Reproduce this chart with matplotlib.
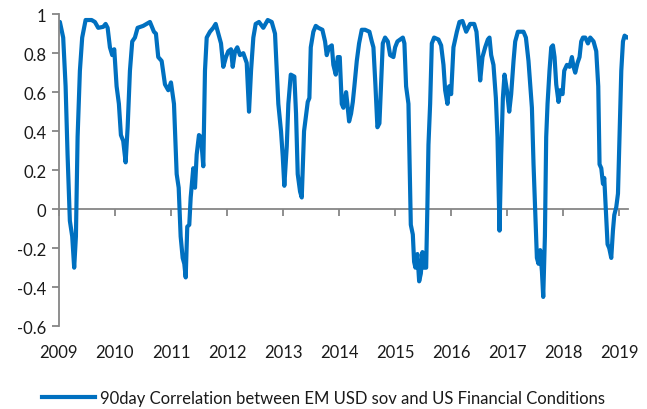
import matplotlib
matplotlib.use("Agg")
import matplotlib.pyplot as plt
from matplotlib.ticker import FuncFormatter

plt.rcParams['font.family'] = ['Lato', 'DejaVu Sans']
plt.rcParams['axes.unicode_minus'] = False

# 90-day correlation, decimal year vs. value
years = [
    2009.000, 2009.018, 2009.077, 2009.120, 2009.155, 2009.196, 2009.238, 2009.273, 2009.304,
    2009.334, 2009.375, 2009.416, 2009.477, 2009.584, 2009.643, 2009.702, 2009.791, 2009.834,
    2009.870, 2009.911, 2009.952, 2009.988, 2010.030, 2010.071, 2010.107, 2010.148, 2010.191,
    2010.227, 2010.268, 2010.309, 2010.357, 2010.405, 2010.505, 2010.625, 2010.696, 2010.732,
    2010.773, 2010.834, 2010.893, 2010.952, 2011.000, 2011.054, 2011.102, 2011.138, 2011.173,
    2011.209, 2011.238, 2011.263, 2011.291, 2011.327, 2011.352, 2011.398, 2011.429, 2011.459,
    2011.500, 2011.536, 2011.577, 2011.607, 2011.638, 2011.696, 2011.755, 2011.798, 2011.845,
    2011.893, 2011.934, 2011.982, 2012.023, 2012.071, 2012.102, 2012.143, 2012.184, 2012.232,
    2012.291, 2012.352, 2012.393, 2012.429, 2012.470, 2012.512, 2012.571, 2012.648, 2012.727,
    2012.798, 2012.857, 2012.888, 2012.916, 2012.964, 2012.995, 2013.023, 2013.066, 2013.095,
    2013.138, 2013.202, 2013.232, 2013.262, 2013.304, 2013.334, 2013.375, 2013.405, 2013.441,
    2013.470, 2013.495, 2013.541, 2013.584, 2013.630, 2013.702, 2013.750, 2013.780, 2013.821,
    2013.870, 2013.898, 2013.941, 2013.977, 2014.012, 2014.048, 2014.077, 2014.125, 2014.148,
    2014.179, 2014.214, 2014.245, 2014.273, 2014.316, 2014.357, 2014.405, 2014.464, 2014.541,
    2014.584, 2014.613, 2014.648, 2014.684, 2014.720, 2014.745, 2014.780, 2014.821, 2014.870,
    2014.911, 2014.970, 2015.000, 2015.041, 2015.089, 2015.138, 2015.166, 2015.196, 2015.238,
    2015.255, 2015.280, 2015.316, 2015.339, 2015.363, 2015.398, 2015.429, 2015.459, 2015.488,
    2015.518, 2015.554, 2015.577, 2015.595, 2015.625, 2015.655, 2015.696, 2015.773, 2015.821,
    2015.863, 2015.893, 2015.934, 2015.964, 2016.000, 2016.041, 2016.102, 2016.148, 2016.202,
    2016.268, 2016.339, 2016.411, 2016.452, 2016.488, 2016.518, 2016.559, 2016.607, 2016.655,
    2016.684, 2016.714, 2016.755, 2016.798, 2016.827, 2016.863, 2016.893, 2016.923, 2016.952,
    2016.995, 2017.036, 2017.071, 2017.113, 2017.143, 2017.191, 2017.232, 2017.291, 2017.334,
    2017.380, 2017.441, 2017.470, 2017.500, 2017.530, 2017.559, 2017.589, 2017.620, 2017.643,
    2017.673, 2017.696, 2017.720, 2017.755, 2017.786, 2017.816, 2017.845, 2017.875, 2017.916,
    2017.946, 2017.988, 2018.018, 2018.066, 2018.113, 2018.155, 2018.184, 2018.214, 2018.255,
    2018.291, 2018.321, 2018.352, 2018.393, 2018.441, 2018.482, 2018.541, 2018.589, 2018.625,
    2018.648, 2018.679, 2018.709, 2018.732, 2018.762, 2018.791, 2018.821, 2018.857, 2018.887,
    2018.911, 2018.946, 2018.977, 2019.005, 2019.036, 2019.066, 2019.095, 2019.138, 2019.173,
]
corr = [
    0.96, 0.96, 0.88, 0.63, 0.28, -0.06, -0.14, -0.30, -0.14,
    0.37, 0.71, 0.88, 0.97, 0.97, 0.96, 0.93, 0.935, 0.95,
    0.93, 0.83, 0.79, 0.82, 0.63, 0.54, 0.38, 0.35, 0.24,
    0.42, 0.71, 0.86, 0.88, 0.93, 0.94, 0.96, 0.91, 0.90,
    0.78, 0.76, 0.64, 0.61, 0.65, 0.54, 0.18, 0.11, -0.14,
    -0.25, -0.28, -0.35, -0.09, -0.08, 0.06, 0.21, 0.11, 0.28,
    0.38, 0.37, 0.22, 0.71, 0.88, 0.91, 0.93, 0.95, 0.90,
    0.85, 0.73, 0.78, 0.81, 0.82, 0.73, 0.81, 0.83, 0.79,
    0.80, 0.75, 0.50, 0.71, 0.88, 0.95, 0.96, 0.93, 0.97,
    0.96, 0.90, 0.71, 0.54, 0.40, 0.27, 0.12, 0.32, 0.54,
    0.69, 0.68, 0.49, 0.18, 0.09, 0.06, 0.40, 0.47, 0.55,
    0.57, 0.83, 0.91, 0.94, 0.93, 0.92, 0.86, 0.79, 0.83,
    0.84, 0.74, 0.69, 0.78, 0.78, 0.54, 0.52, 0.60, 0.54,
    0.45, 0.49, 0.55, 0.63, 0.76, 0.85, 0.92, 0.92, 0.91,
    0.86, 0.83, 0.64, 0.42, 0.44, 0.61, 0.85, 0.88, 0.86,
    0.79, 0.78, 0.83, 0.86, 0.87, 0.88, 0.85, 0.63, 0.54,
    0.28, -0.08, -0.13, -0.27, -0.30, -0.23, -0.37, -0.33, -0.22,
    -0.30, -0.30, 0.03, 0.33, 0.54, 0.85, 0.88, 0.87, 0.84,
    0.74, 0.61, 0.54, 0.63, 0.59, 0.83, 0.91, 0.96, 0.965,
    0.91, 0.95, 0.95, 0.91, 0.78, 0.66, 0.78, 0.83, 0.87,
    0.88, 0.79, 0.74, 0.57, 0.37, -0.11, 0.28, 0.57, 0.69,
    0.61, 0.50, 0.59, 0.76, 0.86, 0.91, 0.91, 0.91, 0.88,
    0.76, 0.52, 0.23, -0.01, -0.25, -0.28, -0.21, -0.32, -0.45,
    -0.14, 0.37, 0.54, 0.71, 0.83, 0.84, 0.78, 0.64, 0.55,
    0.61, 0.59, 0.71, 0.74, 0.73, 0.78, 0.73, 0.70, 0.75,
    0.78, 0.86, 0.88, 0.88, 0.85, 0.88, 0.86, 0.81, 0.63,
    0.23, 0.21, 0.13, 0.16, -0.01, -0.18, -0.20, -0.25, -0.11,
    -0.03, 0.01, 0.08, 0.37, 0.71, 0.86, 0.89, 0.88, 0.88,
]

year_ticks = list(range(2009, 2020))
y_ticks = [-0.6, -0.4, -0.2, 0, 0.2, 0.4, 0.6, 0.8, 1]
label = '90day Correlation between EM USD sov and US Financial Conditions'

fig = plt.figure(figsize=(6.47, 4.10), dpi=100)
ax = fig.add_axes([0.091, 0.202, 0.880, 0.761])

ax.plot(years, corr, color='#0070C0', lw=3, label=label, solid_joinstyle='round')

ax.set_xlim(2009, 2019.16)
ax.set_ylim(-0.6, 1)

gray = '#868686'
for s in ['top', 'right', 'bottom']:
    ax.spines[s].set_visible(False)
ax.spines['left'].set_color(gray)
ax.spines['left'].set_linewidth(1.3)

ax.set_yticks(y_ticks)
ax.yaxis.set_major_formatter(FuncFormatter(lambda v, p: '%g' % round(v, 1)))
ax.tick_params(axis='y', direction='out', length=5, width=1.3, color=gray,
               labelsize=12, labelcolor='#1a1a1a', pad=4)

# labels at the bottom, no tick marks there
ax.set_xticks(year_ticks)
ax.set_xticklabels([str(y) for y in year_ticks])
ax.tick_params(axis='x', length=0, labelsize=12, labelcolor='#1a1a1a', pad=13)

# horizontal axis line at zero with its tick marks
zero_ax = ax.secondary_xaxis(0.6 / 1.6)
zero_ax.set_xticks(year_ticks)
zero_ax.set_xticklabels([])
zero_ax.spines['bottom'].set_color(gray)
zero_ax.spines['bottom'].set_linewidth(1.3)
zero_ax.tick_params(direction='out', length=5, width=1.3, color=gray)

fig.legend(loc='center', bbox_to_anchor=(0.5, 0.027), frameon=False, fontsize=12,
           handlelength=3.2, handletextpad=0.3, labelcolor='#1a1a1a')

fig.savefig('out.png', dpi=100)
